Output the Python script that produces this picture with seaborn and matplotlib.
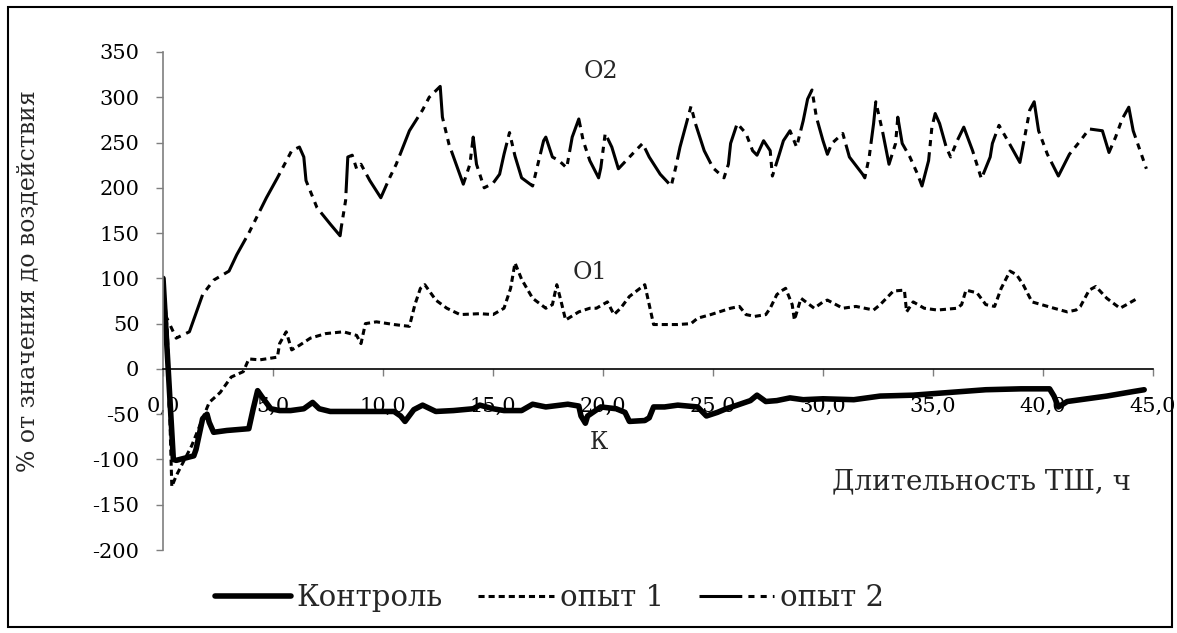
import numpy as np
import pandas as pd
import matplotlib
matplotlib.use("Agg")
import matplotlib.pyplot as plt
from matplotlib.patches import Rectangle
import seaborn as sns

# ---------------- data ----------------
control_x = [0, 0.47, 0.6, 1.4, 1.5, 1.8, 2.0, 2.1, 2.3, 2.9, 3.9, 4.1, 4.3, 4.5, 4.9, 5.3, 5.8, 6.4, 6.8, 7.1,
             7.6, 9.0, 10.5, 10.8, 11.0, 11.4, 11.8, 12.4, 13.2, 14.1, 14.4, 15.0, 15.5, 16.3, 16.8, 17.4, 18.4,
             18.9, 19.0, 19.2, 19.3, 19.9, 20.6, 21.0, 21.2, 21.9, 22.1, 22.3, 22.8, 23.4, 24.3, 24.7, 25.2, 25.6,
             26.1, 26.7, 27.0, 27.4, 27.9, 28.5, 29.1, 30.0, 31.4, 32.6, 34.1, 35.2, 37.4, 39.0, 40.3, 40.5, 40.7,
             41.1, 42.0, 42.9, 44.1, 44.6]
control_y = [100, -100, -101, -96, -89, -55, -50, -59, -70, -68, -66, -44, -24, -31, -44, -46, -46, -44, -37, -44,
             -47, -47, -47, -52, -58, -45, -40, -47, -46, -44, -40, -44, -46, -46, -39, -42, -39,
             -41, -52, -60, -52, -42, -44, -48, -58, -57, -54, -42, -42, -40, -42, -52, -48, -44,
             -40, -35, -29, -36, -35, -32, -34, -33, -34, -30, -29, -27, -23, -22, -22, -30, -42,
             -36, -33, -30, -25, -23]

o1_x = [0, 0.2, 0.4, 0.6, 1.3, 2.1, 2.6, 3.1, 3.65, 3.9,
        4.4, 5.2, 5.3, 5.6, 5.85, 6.2, 6.7, 7.4, 8.2, 8.8,
        9.0, 9.2, 9.7, 10.5, 11.2, 11.45, 11.7, 11.9, 12.4, 12.9,
        13.5, 14.4, 15.0, 15.5, 15.8, 16.0, 16.3, 16.8, 17.4, 17.7,
        17.9, 18.1, 18.3, 18.9, 19.4, 19.7, 20.2, 20.5, 20.8, 21.2,
        21.9, 22.1, 22.3, 22.8, 23.4, 24.0, 24.3, 24.9, 25.8, 26.2,
        26.5, 26.9, 27.4, 27.6, 27.9, 28.1, 28.3, 28.6, 28.7, 29.0,
        29.6, 30.0, 30.2, 30.9, 31.5, 32.3, 32.6, 33.2, 33.7, 33.8,
        34.1, 34.6, 35.2, 36.1, 36.3, 36.5, 37.0, 37.4, 37.8, 38.1,
        38.5, 38.8, 39.1, 39.5, 40.5, 41.1, 41.5, 41.7, 42.1, 42.4,
        42.9, 43.5, 43.8, 44.3]
o1_y = [100, 40, -130, -118, -85, -37, -26, -9, -3, 11,
        10, 13, 28, 41, 21, 26, 34, 39, 41, 37,
        28, 50, 52, 49, 47, 71, 89, 93, 76, 67,
        60, 61, 60, 67, 89, 117, 99, 78, 67, 71,
        93, 74, 54, 63, 67, 67, 74, 60, 67, 80,
        93, 71, 49, 49, 49, 50, 56, 60, 67, 69,
        60, 58, 60, 67, 82, 86, 89, 71, 54, 78,
        67, 74, 76, 67, 69, 65, 71, 86, 87, 63,
        74, 67, 65, 67, 71, 87, 84, 71, 69, 89,
        108, 104, 93, 74, 67, 63, 65, 69, 87, 91,
        78, 67, 71, 78]

o2_x = [0, 0.1, 0.6, 1.2, 1.8, 2.3, 3.0, 3.35, 3.9, 4.25,
        4.7, 5.2, 5.85, 6.2, 6.4, 6.5, 7.0, 7.6, 8.05, 8.1,
        8.3, 8.4, 8.6, 8.8, 9.0, 9.4, 9.9, 10.3, 10.6, 11.2,
        11.8, 12.1, 12.6, 12.7, 13.0, 13.65, 13.95, 14.1, 14.25, 14.6,
        15.0, 15.3, 15.5, 15.75, 16.0, 16.3, 16.8, 17.0, 17.3, 17.4,
        17.7, 18.0, 18.35, 18.6, 18.9, 19.1, 19.4, 19.8, 19.9, 20.1,
        20.4, 20.7, 21.4, 21.8, 22.1, 22.6, 23.1, 23.3, 23.5, 24.0,
        24.2, 24.6, 25.0, 25.5, 25.7, 25.8, 26.1, 26.5, 26.8, 27.0,
        27.3, 27.6, 27.7, 28.0, 28.2, 28.5, 28.8, 29.1, 29.3, 29.5,
        29.7, 30.0, 30.2, 30.4, 30.9, 31.2, 31.8, 31.9, 32.1, 32.3,
        32.4, 32.7, 33.0, 33.3, 33.4, 33.6, 33.95, 34.3, 34.5, 34.8,
        34.95, 35.1, 35.3, 35.6, 35.8, 36.1, 36.4, 36.8, 37.2, 37.6,
        37.7, 38.0, 38.4, 38.95, 39.2, 39.4, 39.6, 39.8, 40.2, 40.7,
        41.2, 41.7, 42.1, 42.7, 43.0, 43.3, 43.6, 43.9, 44.1, 44.7]
o2_y = [100, 60, 34, 41, 82, 98, 108, 126, 150, 167,
        189, 211, 241, 245, 234, 208, 178, 160, 147, 156,
        186, 234, 236, 221, 226, 208, 189, 211, 226, 263,
        286, 300, 312, 278, 248, 204, 226, 256, 226, 200,
        205, 215, 237, 261, 235, 211, 202, 222, 252, 256,
        234, 230, 222, 256, 276, 252, 230, 211, 222, 260,
        245, 221, 239, 249, 234, 215, 202, 222, 245, 290,
        271, 241, 222, 211, 226, 249, 271, 260, 241, 236,
        252, 241, 213, 236, 252, 263, 245, 274, 298, 308,
        278, 252, 237, 249, 260, 234, 215, 211, 234, 271,
        295, 263, 226, 249, 278, 249, 234, 215, 202, 230,
        267, 282, 271, 245, 234, 252, 267, 241, 210, 234,
        249, 269, 252, 228, 260, 286, 295, 263, 237, 213,
        237, 252, 265, 263, 239, 256, 276, 289, 263, 221]

series_names = ["Контроль", "опыт 1", "опыт 2"]
x_ticks = [0, 5, 10, 15, 20, 25, 30, 35, 40, 45]
x_tick_labels = ["0,0", "5,0", "10,0", "15,0", "20,0", "25,0", "30,0", "35,0", "40,0", "45,0"]
y_ticks = [-200, -150, -100, -50, 0, 50, 100, 150, 200, 250, 300, 350]
y_label = "% от значения до воздействия"
x_label = "Длительность ТШ, ч"
curve_labels = ["О2", "О1", "К"]

# ---------------- plot ----------------
sns.set_theme(style="white")
plt.rcParams["font.family"] = ["DejaVu Serif", "Liberation Serif"]

fig = plt.figure(figsize=(11.77, 6.33), dpi=100)
ax = fig.add_axes([0.1385, 0.1311, 0.9796 - 0.1385, 0.9179 - 0.1311])

sns.lineplot(x=control_x, y=control_y, ax=ax, color="black", linewidth=4.0,
             sort=False, estimator=None, label=series_names[0])
sns.lineplot(x=o1_x, y=o1_y, ax=ax, color="black", linewidth=2.2,
             sort=False, estimator=None, label=series_names[1],
             linestyle=(0, (2.0, 1.3)))
sns.lineplot(x=o2_x, y=o2_y, ax=ax, color="black", linewidth=2.2,
             sort=False, estimator=None, label=series_names[2],
             linestyle=(0, (14, 2, 2, 2, 2, 2)))

ax.set_xlim(0, 45)
ax.set_ylim(-200, 350)

# axes styling
for s in ["top", "right"]:
    ax.spines[s].set_visible(False)
ax.spines["left"].set_color("#7f7f7f")
ax.spines["left"].set_linewidth(1.2)
ax.spines["bottom"].set_position(("data", 0))
ax.spines["bottom"].set_color("black")
ax.spines["bottom"].set_linewidth(1.2)

ax.set_xticks(x_ticks)
ax.set_xticklabels(x_tick_labels)
ax.set_yticks(y_ticks)
ax.set_yticklabels([str(v) for v in y_ticks])
ax.tick_params(axis="x", direction="out", length=5, width=1, color="#7f7f7f",
               pad=15, labelsize=15, labelcolor="black", bottom=True)
ax.tick_params(axis="y", direction="out", length=5, width=1, color="#7f7f7f",
               pad=12, labelsize=15, labelcolor="black", left=True)
ax.grid(False)

ax.set_ylabel("")
fig.text(28 / 1177, 1 - 281 / 633, y_label, fontsize=17, rotation=90,
         ha="center", va="center")
ax.text(44.0, -125, x_label, fontsize=20, ha="right", va="center")

ax.text(19.9, 328, curve_labels[0], fontsize=17, ha="center", va="center")
ax.text(19.4, 106, curve_labels[1], fontsize=17, ha="center", va="center")
ax.text(19.8, -81, curve_labels[2], fontsize=17, ha="center", va="center")

handles, labels = ax.get_legend_handles_labels()
ax.legend(handles, labels, loc="center", bbox_to_anchor=(0.467, 0.055),
          bbox_transform=fig.transFigure, ncol=3, frameon=False,
          fontsize=21, handlelength=2.6, handletextpad=0.2, columnspacing=1.2)

fig.patches.append(Rectangle((0.0068, 0.0095), 0.9890, 0.9795, transform=fig.transFigure,
                             fill=False, edgecolor="black", linewidth=1.5))

fig.savefig("out.png", dpi=100)
